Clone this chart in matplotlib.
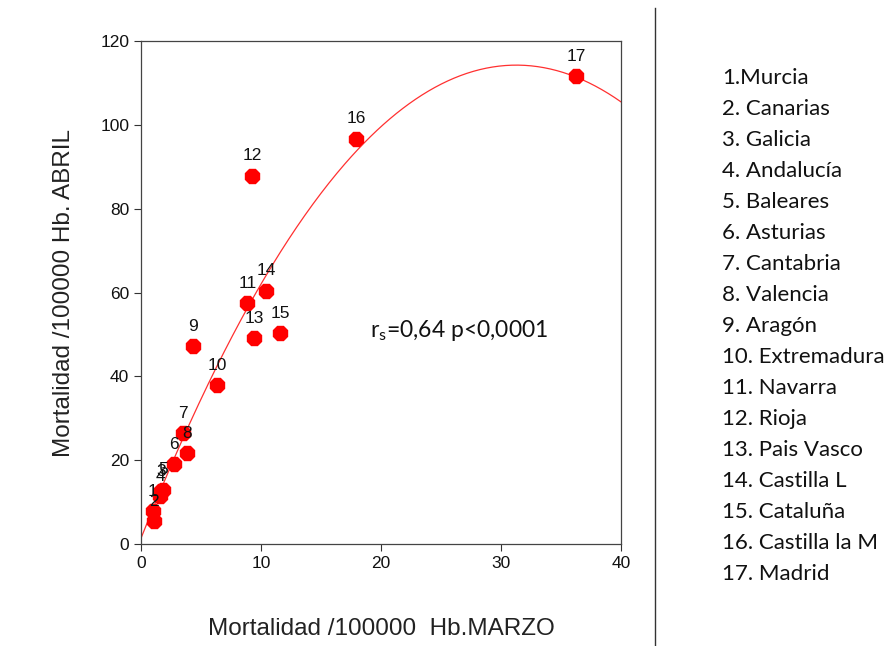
import numpy as np
import matplotlib
matplotlib.use("Agg")
import matplotlib.pyplot as plt
from matplotlib.lines import Line2D

# Mortality per 100,000 inhabitants by region: March (x) vs April (y)
region_ids = list(range(1, 18))
marzo = [0.96, 1.1, 1.67, 1.58, 1.83, 2.75, 3.5, 3.83, 4.31, 6.36,
         8.86, 9.28, 9.42, 10.42, 11.58, 17.92, 36.25]
abril = [7.8, 5.4, 12.6, 11.4, 13.0, 19.0, 26.4, 21.6, 47.2, 37.9,
         57.4, 87.9, 49.1, 60.4, 50.3, 96.6, 111.6]
region_names = ["1.Murcia", "2. Canarias", "3. Galicia", "4. Andalucía",
                "5. Baleares", "6. Asturias", "7. Cantabria", "8. Valencia",
                "9. Aragón", "10. Extremadura", "11. Navarra", "12. Rioja",
                "13. Pais Vasco", "14. Castilla L", "15. Cataluña",
                "16. Castilla la M", "17. Madrid"]
x_ticks = [0, 10, 20, 30, 40]
y_ticks = [0, 20, 40, 60, 80, 100, 120]

plt.rcParams["mathtext.fontset"] = "custom"
plt.rcParams["mathtext.rm"] = "Lato"
plt.rcParams["mathtext.it"] = "Lato:italic"

fig = plt.figure(figsize=(8.96, 6.46), dpi=100)
ax = fig.add_axes([0.1574, 0.1579, 0.5357, 0.7786])

x = np.array(marzo)
y = np.array(abril)

# Quadratic fit line
coef = np.polyfit(x, y, 2)
xs = np.linspace(0, 40, 300)
ax.plot(xs, np.polyval(coef, xs), color="#ff3030", lw=0.9, zorder=2)

ax.plot(x, y, linestyle="none", marker="8", markersize=11,
        color="#ff0000", markeredgecolor="#ff0000", zorder=3)

for rid, xi, yi in zip(region_ids, x, y):
    ax.annotate(str(rid), (xi, yi), xytext=(0, 14.5), textcoords="offset points",
                ha="center", va="center", fontsize=12.5,
                family="Liberation Sans", color="#111111", zorder=4)

ax.text(19.1, 51, r"r$_{\mathrm{s}}$=0,64 p<0,0001", family="Lato",
        fontsize=16.5, va="center", ha="left", color="#111111")

ax.set_xlim(0, 40)
ax.set_ylim(0, 120)
ax.set_xticks(x_ticks)
ax.set_yticks(y_ticks)
ax.tick_params(direction="out", length=5, width=0.8, color="#333333",
               labelsize=12.5, labelcolor="#111111")
for lab in ax.get_xticklabels() + ax.get_yticklabels():
    lab.set_family("Liberation Sans")
for sp in ax.spines.values():
    sp.set_color("#444444")
    sp.set_linewidth(0.9)

ax.set_xlabel("Mortalidad /100000  Hb.MARZO", family="Liberation Sans",
              fontsize=17.5, color="#222222", labelpad=34)
ax.set_ylabel("Mortalidad /100000 Hb. ABRIL", family="Liberation Sans",
              fontsize=17.5, color="#222222", labelpad=18)

# Divider line between chart and region key
fig.add_artist(Line2D([655 / 896, 655 / 896], [1 - 8 / 646, 1 - 645 / 646],
                      color="#333333", lw=1.0))

for i, name in enumerate(region_names):
    fig.text(722 / 896, 1 - (78 + 31 * i) / 646, name, family="Lato",
             fontsize=16, va="center", ha="left", color="#111111")

fig.savefig("out.png", dpi=100)
